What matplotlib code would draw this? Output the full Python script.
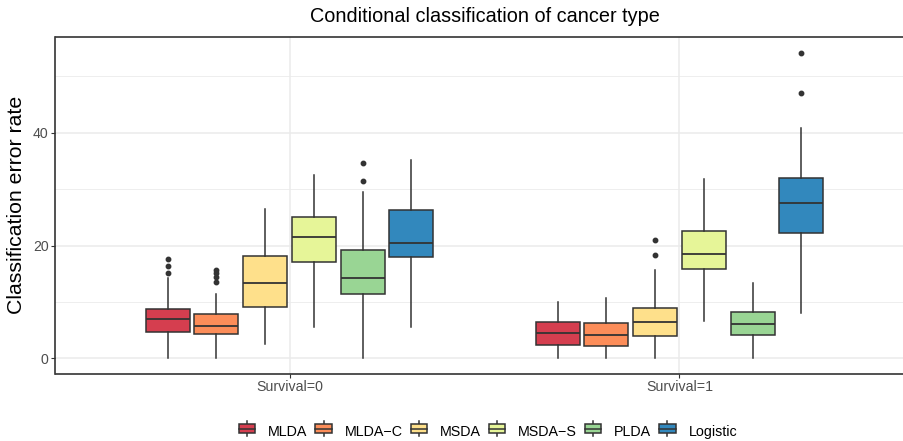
"""Boxplots of classification error rate by survival group."""

import matplotlib
matplotlib.use("Agg")
import matplotlib.pyplot as plt
from matplotlib.legend_handler import HandlerBase
from matplotlib.patches import Rectangle
from matplotlib.lines import Line2D

plt.rcParams["font.family"] = ["Liberation Sans", "DejaVu Sans"]

groups = ["Survival=0", "Survival=1"]
methods = ["MLDA", "MLDA\u2212C", "MSDA", "MSDA\u2212S", "PLDA", "Logistic"]
colors = ["#D53E4F", "#FC8D59", "#FEE08B", "#E6F598", "#99D594", "#3288BD"]

# per method: [whislo, q1, med, q3, whishi] for Survival=0 and Survival=1
stats_s0 = [
    [0.0, 4.6, 7.0, 8.8, 14.3],
    [0.0, 4.3, 5.8, 7.9, 11.4],
    [2.6, 9.1, 13.3, 18.2, 26.5],
    [5.5, 17.1, 21.6, 25.1, 32.5],
    [0.0, 11.4, 14.3, 19.2, 29.5],
    [5.5, 17.9, 20.5, 26.3, 35.2],
]
stats_s1 = [
    [0.0, 2.3, 4.4, 6.4, 10.0],
    [0.0, 2.2, 4.1, 6.2, 10.7],
    [0.0, 4.0, 6.5, 9.0, 15.7],
    [6.7, 15.9, 18.5, 22.5, 31.8],
    [0.0, 4.1, 6.1, 8.2, 13.3],
    [8.1, 22.2, 27.6, 31.9, 40.8],
]
outliers_s0 = [
    [15.2, 16.3, 17.6],
    [13.6, 14.5, 15.1, 15.6],
    [],
    [],
    [31.5, 34.6],
    [],
]
outliers_s1 = [
    [],
    [],
    [18.4, 21.0],
    [],
    [],
    [47.0, 54.2],
]

EDGE = "#333333"


class BoxKey(HandlerBase):
    def create_artists(self, legend, orig, xd, yd, w, h, fontsize, trans):
        fc = orig.get_facecolor()
        cx = xd + w / 2
        bw = w
        rect = Rectangle((cx - bw / 2, yd + h * 0.12), bw, h * 0.76,
                         facecolor=fc, edgecolor=EDGE, lw=1.1, transform=trans)
        med = Line2D([cx - bw / 2, cx + bw / 2], [yd + h / 2] * 2,
                     color=EDGE, lw=1.1, transform=trans)
        top = Line2D([cx, cx], [yd + h * 0.88, yd + h * 1.1], color=EDGE,
                     lw=1.1, transform=trans)
        bot = Line2D([cx, cx], [yd - h * 0.1, yd + h * 0.12], color=EDGE,
                     lw=1.1, transform=trans)
        return [top, bot, rect, med]


fig = plt.figure(figsize=(9.04, 4.41), dpi=100)
ax = fig.add_axes([55.5 / 904, 1 - 373.5 / 441, 858 / 904, 336.5 / 441])

slot = 0.125
width = 0.1125
all_stats = [stats_s0, stats_s1]
all_out = [outliers_s0, outliers_s1]
for gi in range(len(groups)):
    for mi in range(len(methods)):
        lo, q1, med, q3, hi = all_stats[gi][mi]
        pos = gi + 1 + (mi - 2.5) * slot
        bxp = ax.bxp([dict(whislo=lo, q1=q1, med=med, q3=q3, whishi=hi,
                           fliers=all_out[gi][mi])],
                     positions=[pos], widths=width, patch_artist=True,
                     showcaps=False, manage_ticks=False,
                     boxprops=dict(facecolor=colors[mi], edgecolor=EDGE, lw=1.1),
                     medianprops=dict(color=EDGE, lw=1.3),
                     whiskerprops=dict(color=EDGE, lw=1.1),
                     flierprops=dict(marker="o", markersize=3.2,
                                     markerfacecolor=EDGE, markeredgecolor=EDGE))
        for art in bxp["boxes"] + bxp["medians"] + bxp["whiskers"] + bxp["fliers"]:
            art.set_zorder(3)

ax.set_xlim(0.4, 2.6)
ax.set_ylim(-2.7, 57.0)
ax.set_xticks([1, 2])
ax.set_xticklabels(groups)
ax.set_yticks([0, 20, 40])
ax.set_yticks([10, 30, 50], minor=True)
ax.grid(which="major", color="#EBEBEB", lw=1.1, zorder=0)
ax.grid(which="minor", axis="y", color="#EBEBEB", lw=0.6, zorder=0)
ax.set_axisbelow(True)
ax.tick_params(which="major", length=3, width=0.8, color="#333333",
               labelcolor="#4D4D4D", labelsize=10.2, pad=2)
ax.tick_params(which="minor", length=0)
for sp in ax.spines.values():
    sp.set_color("#333333")
    sp.set_linewidth(1.2)

ax.set_ylabel("Classification error rate", fontsize=15.3, labelpad=5)
fig.text(485 / 904, 1 - 17 / 441, "Conditional classification of cancer type",
         ha="center", va="center", fontsize=14.3)

handles = [Rectangle((0, 0), 1, 1, facecolor=c) for c in colors]
fig.legend(handles, methods, handler_map={Rectangle: BoxKey()},
           loc="center", bbox_to_anchor=(488 / 904, 1 - 432 / 441), ncol=6,
           frameon=False, fontsize=10.3, handlelength=1.15, handleheight=0.95,
           handletextpad=0.9, columnspacing=0.55)

fig.savefig("out.png", dpi=100)
